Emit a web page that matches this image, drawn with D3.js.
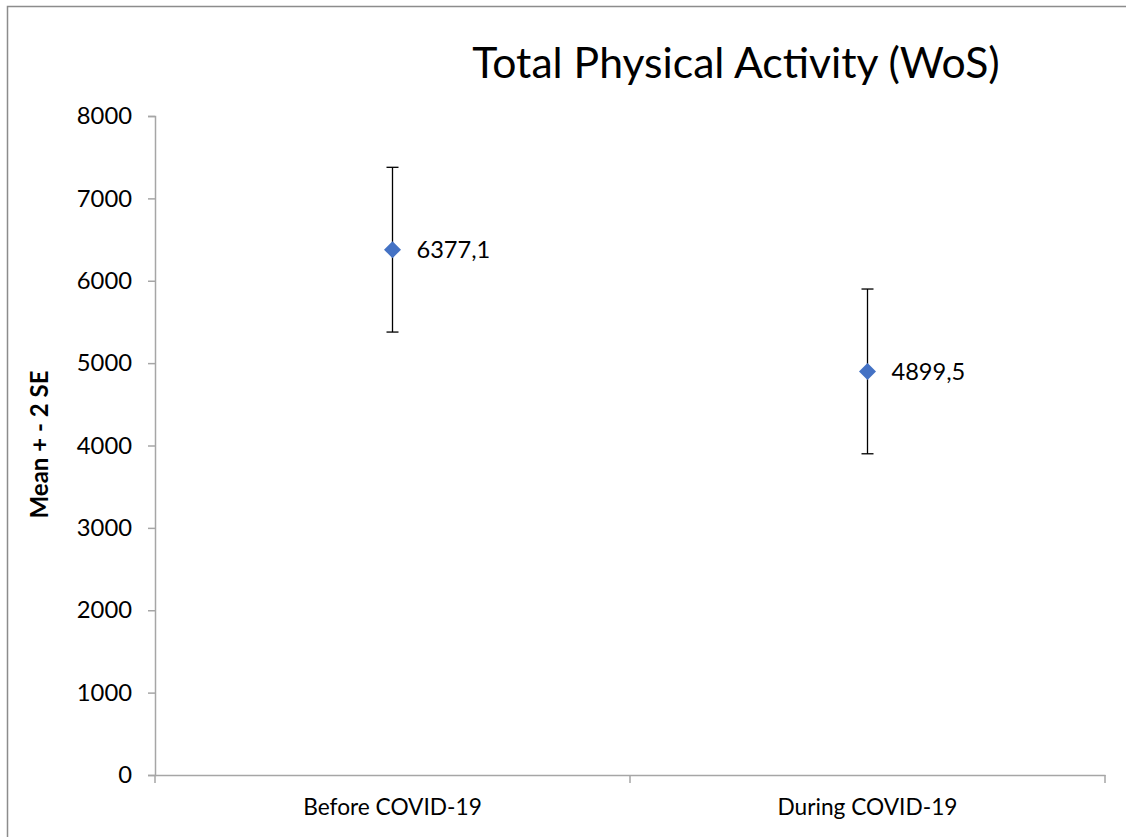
<!DOCTYPE html>
<html><head><meta charset="utf-8">
<script src="https://cdn.jsdelivr.net/npm/d3@7"></script>
<style>
html,body{margin:0;padding:0;background:#fff;overflow:hidden;}
svg{display:block;font-family:Lato, "Open Sans", sans-serif;}
</style></head>
<body><svg id="chart" width="1126" height="837"></svg>
<script>
const categories = ["Before COVID-19", "During COVID-19"];
const means = [6377.1, 4899.5];
const errors = [1000, 1000];
const yTicks = [0, 1000, 2000, 3000, 4000, 5000, 6000, 7000, 8000];
const titleText = "Total Physical Activity (WoS)";
const yLabel = "Mean + - 2 SE";

(function () {
const svg = d3.select("#chart");
const mL = 155, mR = 1105, mT = 116, mB = 775;

svg.append("path").attr("d", "M7.5,837V6.5H1126")
  .attr("fill", "none").attr("stroke", "#8c8c8c").attr("stroke-width", 1.5);

const x = d3.scaleBand().domain(categories).range([mL, mR]);
const y = d3.scaleLinear().domain([0, 8000]).range([mB, mT]);

// y axis
const yAxis = svg.append("g").attr("transform", `translate(${mL},0)`)
  .call(d3.axisLeft(y).tickValues(yTicks).tickSize(7).tickPadding(16).tickFormat(d3.format("d")));
yAxis.select(".domain").attr("stroke", "#a6a6a6").attr("stroke-width", 1.5);
yAxis.selectAll(".tick line").attr("stroke", "#a6a6a6").attr("stroke-width", 1.5);
yAxis.selectAll("text").attr("font-size", 23.8).attr("fill", "#000").attr("font-family", "Lato");

// x axis
const xAxis = svg.append("g").attr("transform", `translate(0,${mB})`)
  .call(d3.axisBottom(x).tickSize(0).tickPadding(24));
xAxis.select(".domain").attr("stroke", "#a6a6a6").attr("stroke-width", 1.5);
xAxis.selectAll("text").attr("font-size", 22.7).attr("fill", "#000").attr("font-family", "Lato").attr("dy", "0.71em");
const bounds = [x.range()[0]].concat(categories.map(c => x(c) + x.bandwidth()));
svg.append("g").selectAll("line").data(bounds).join("line")
  .attr("x1", d => d).attr("x2", d => d).attr("y1", mB).attr("y2", mB + 8)
  .attr("stroke", "#a6a6a6").attr("stroke-width", 1.5);

// title
svg.append("text").attr("x", 736).attr("y", 78).attr("text-anchor", "middle")
  .attr("font-size", 42.7).attr("fill", "#000").text(titleText);

// y label
svg.append("text").attr("transform", `translate(48,${(mT + mB) / 2 - 1}) rotate(-90)`)
  .attr("text-anchor", "middle").attr("font-size", 24).attr("font-weight", "bold").attr("fill", "#000").text(yLabel);

const fmt = d3.formatLocale({decimal: ",", thousands: "", grouping: [3], currency: ["", ""]}).format(".1f");
const data = categories.map((c, i) => ({c, m: means[i], e: errors[i]}));
const cx = d => x(d.c) + x.bandwidth() / 2;

const g = svg.append("g");
g.selectAll(".eb").data(data).join("line")
  .attr("x1", cx).attr("x2", cx).attr("y1", d => y(d.m + d.e)).attr("y2", d => y(d.m - d.e))
  .attr("stroke", "#000").attr("stroke-width", 1.3);
["top", "bot"].forEach(k => {
  g.append("g").selectAll("line").data(data).join("line")
    .attr("x1", d => cx(d) - 6).attr("x2", d => cx(d) + 6)
    .attr("y1", d => y(k === "top" ? d.m + d.e : d.m - d.e))
    .attr("y2", d => y(k === "top" ? d.m + d.e : d.m - d.e))
    .attr("stroke", "#000").attr("stroke-width", 1.3);
});
g.append("g").selectAll("path").data(data).join("path")
  .attr("d", d => { const px = cx(d), py = y(d.m), r = 8.5;
    return `M${px},${py - r}L${px + r},${py}L${px},${py + r}L${px - r},${py}Z`; })
  .attr("fill", "#4472C4");
g.append("g").selectAll("text").data(data).join("text")
  .attr("x", d => cx(d) + 24).attr("y", d => y(d.m)).attr("dy", "0.35em")
  .attr("font-size", 23.6).attr("fill", "#000").text(d => fmt(d.m));
})();
</script></body></html>
